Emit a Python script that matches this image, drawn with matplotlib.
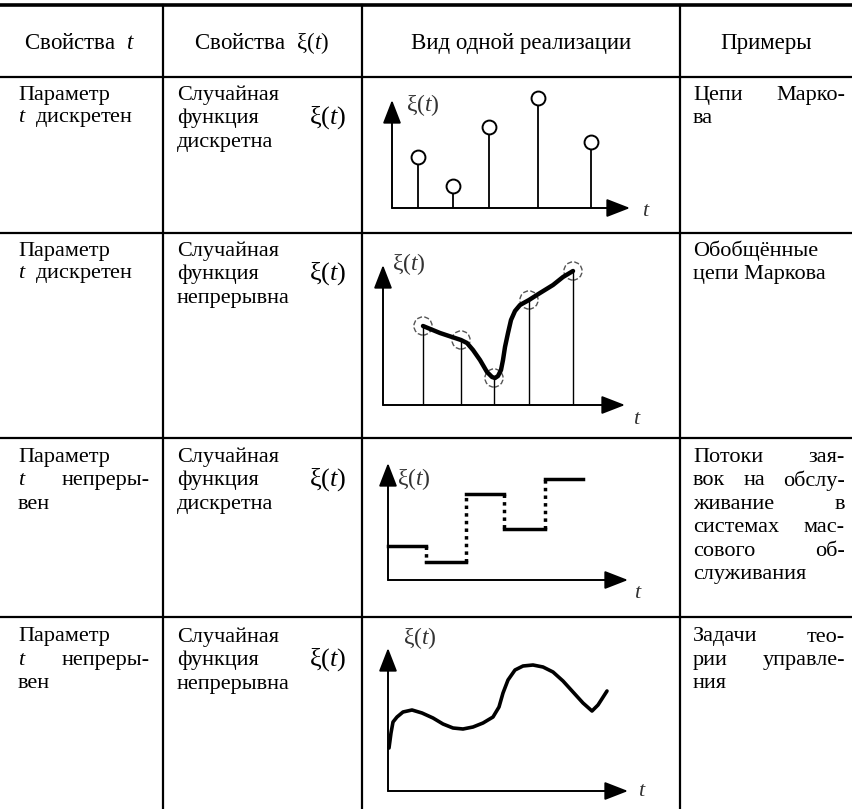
import numpy as np
import matplotlib
matplotlib.use('Agg')
import matplotlib.pyplot as plt

plt.rcParams['font.family'] = ['Liberation Serif', 'DejaVu Serif']
plt.rcParams['mathtext.fontset'] = 'custom'
plt.rcParams['mathtext.rm'] = 'Liberation Serif'
plt.rcParams['mathtext.it'] = 'Liberation Serif:italic'
plt.rcParams['mathtext.bf'] = 'Liberation Serif:bold'

XI = r'$\mathrm{ξ}(t)$'

# table text
headers = ['Свойства  $t$', 'Свойства  ' + XI, 'Вид одной реализации', 'Примеры']
col1 = [
    [['Параметр'], ['$t$', 'дискретен']],
    [['Параметр'], ['$t$', 'дискретен']],
    [['Параметр'], ['$t$', 'непреры-'], ['вен']],
    [['Параметр'], ['$t$', 'непреры-'], ['вен']],
]
col1_just = [[False, False], [False, False], [False, True, False], [False, True, False]]
col2 = [
    ['Случайная', 'функция', 'дискретна'],
    ['Случайная', 'функция', 'непрерывна'],
    ['Случайная', 'функция', 'дискретна'],
    ['Случайная', 'функция', 'непрерывна'],
]
col4 = [
    [['Цепи', 'Марко-'], ['ва']],
    [['Обобщённые'], ['цепи', 'Маркова']],
    [['Потоки', 'зая-'], ['вок', 'на', 'обслу-'], ['живание', 'в'],
     ['системах', 'мас-'], ['сового', 'об-'], ['служивания']],
    [['Задачи', 'тео-'], ['рии', 'управле-'], ['ния']],
]
col4_just = [[True, False], [False, False], [True, True, True, True, True, False],
             [True, True, False]]

# plot 1: discrete t, discrete values
p1_t = [26, 61, 97, 146, 199]
p1_v = [51, 22, 81, 110, 66]
# plot 2: discrete t, continuous values
p2_t = [40, 78, 111, 146, 190]
p2_v = [79, 65, 27, 105, 134]
p2_curve_t = [40, 57, 78, 84, 90, 97, 104, 109, 112, 115, 118, 120, 122, 125, 128,
              132, 137, 146, 157, 170, 180, 190]
p2_curve_v = [79, 72, 65, 62, 55, 45, 33, 28, 27, 29, 35, 45, 58, 72, 85,
              94, 100, 105, 112, 120, 128, 134]
# plot 3: continuous t, discrete values (steps)
p3_edges = [0, 38, 78, 116, 157, 195]
p3_levels = [34, 18, 86, 51, 101]
# plot 4: continuous t, continuous values
p4_t = [1, 3, 5, 9, 15, 24, 34, 45, 55, 65, 75, 85, 95, 105, 111, 115, 120, 127,
        135, 145, 155, 165, 175, 185, 195, 204, 210, 219]
p4_v = [43, 58, 69, 74, 79, 81, 78, 73, 67, 63, 62, 64, 68, 74, 84, 98, 111, 121,
        125, 126, 124, 119, 110, 99, 88, 80, 86, 100]

W, H = 852, 809
fig = plt.figure(figsize=(W / 100, H / 100), dpi=100)
ax = fig.add_axes([0, 0, 1, 1])
ax.set_xlim(0, W)
ax.set_ylim(H, 0)
ax.axis('off')

FS = 16
LS = 23.5
col_x = [163, 362, 680]
row_y = [77, 233, 438, 617]
first_line = [95, 251, 457, 637]

# grid lines
ax.plot([0, W], [5, 5], color='k', lw=2.6)
for y in row_y:
    ax.plot([0, W], [y, y], color='k', lw=1.6)
for x in col_x:
    ax.plot([x, x], [5, H], color='k', lw=1.6)

# header
centers = [80, 262, 521, 766]
for c, h in zip(centers, headers):
    ax.text(c, 43, h, fontsize=FS + 0.5, ha='center', va='center')

renderer = fig.canvas.get_renderer()


def put_line(words, x0, x1, y, justify):
    if not justify:
        ax.text(x0, y, '  '.join(words) if words[0] == '$t$' else ' '.join(words),
                fontsize=FS, ha='left', va='center')
        return
    arts = [ax.text(x0, y, w, fontsize=FS, ha='left', va='center') for w in words]
    ws = [a.get_window_extent(renderer).width for a in arts]
    gap = (x1 - x0 - sum(ws)) / (len(words) - 1)
    x = x0
    for a, w in zip(arts, ws):
        a.set_x(x)
        x += w + gap


for r in range(4):
    y0 = first_line[r]
    for i, words in enumerate(col1[r]):
        put_line(words, 18, 150, y0 + i * LS, col1_just[r][i])
    for i, word in enumerate(col2[r]):
        ax.text(177, y0 + i * LS, word, fontsize=FS, ha='left', va='center')
    ax.text(346, y0 + LS - 1, XI, fontsize=FS + 3, ha='right', va='center')
    for i, words in enumerate(col4[r]):
        put_line(words, 693, 845, y0 + i * LS, col4_just[r][i])


def small_axes(ox, oy, length, height, label_xy, t_xy):
    a = fig.add_axes([(ox - 30) / W, (H - oy - 30) / H, (length + 70) / W, (height + 60) / H])
    a.set_xlim(-30, length + 40)
    a.set_ylim(-30, height + 30)
    a.axis('off')
    arrow = dict(arrowstyle='-|>,head_length=0.9,head_width=0.35', lw=1.4, color='k',
                 shrinkA=0, shrinkB=0, mutation_scale=16)
    a.annotate('', xy=(length, 0), xytext=(0, 0), arrowprops=arrow)
    a.annotate('', xy=(0, height), xytext=(0, 0), arrowprops=arrow)
    a.text(label_xy[0], label_xy[1], XI, fontsize=17, ha='left', va='center', color='#333333')
    a.text(t_xy[0], t_xy[1], '$t$', fontsize=16, ha='left', va='center', color='#333333')
    return a


# plot 1
a1 = small_axes(392, 208, 238, 108, (14, 103), (250, -4))
a1.vlines(p1_t, 0, p1_v, color='k', lw=1.3)
a1.plot(p1_t, p1_v, 'o', ms=10, mfc='white', mec='k', mew=1.4)

# plot 2
a2 = small_axes(383, 405, 242, 140, (9, 141), (250, -14))
a2.vlines(p2_t, 0, p2_v, color='k', lw=1.0)
a2.scatter(p2_t, p2_v, s=170, facecolors='none', edgecolors='#555555', linestyles='--', lw=1.0)
a2.plot(p2_curve_t, p2_curve_v, color='k', lw=3.2, solid_capstyle='round')

# plot 3
a3 = small_axes(388, 580, 240, 117, (9, 101), (246, -14))
for i, lv in enumerate(p3_levels):
    a3.plot([p3_edges[i], p3_edges[i + 1]], [lv, lv], color='k', lw=2.5)
for i in range(1, len(p3_levels)):
    a3.plot([p3_edges[i], p3_edges[i]], [p3_levels[i - 1], p3_levels[i]], color='k',
            lw=2.5, ls=(0, (1, 1.2)))

# plot 4
a4 = small_axes(388, 791, 240, 143, (15, 153), (250, 0))
a4.plot(p4_t, p4_v, color='k', lw=2.6, solid_capstyle='round')

fig.savefig('out.png', dpi=100)
